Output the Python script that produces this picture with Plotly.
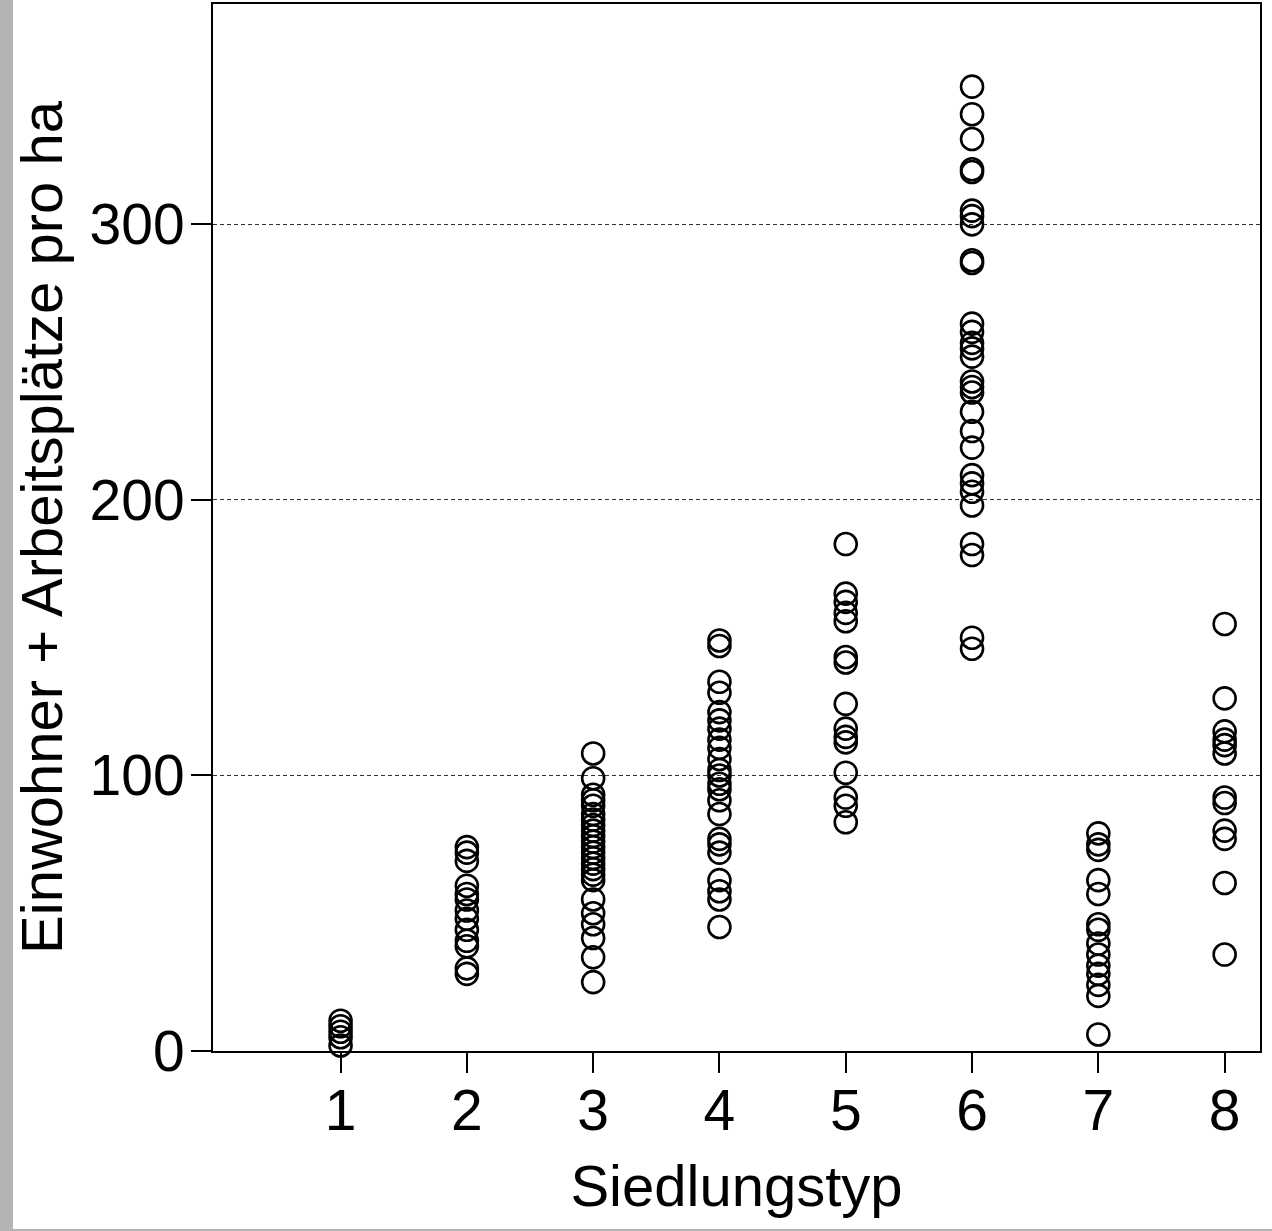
import plotly.graph_objects as go

# Data (Siedlungstyp -> Einwohner + Arbeitsplätze pro ha)
typ1 = [2, 5, 7, 9, 11]
typ2 = [74, 72, 69, 60, 57, 55, 51, 48, 44, 40, 38, 30, 28]
typ3 = [108, 99, 93, 91, 89, 86, 84, 82, 80, 78, 76, 74, 72, 70, 68, 66, 64, 62, 55, 50, 46, 41, 34, 25]
typ4 = [149, 147, 134, 130, 123, 120, 117, 113, 110, 106, 102, 100, 97, 95, 91, 86, 77, 75, 72, 62, 58, 55, 45]
typ5 = [184, 166, 163, 159, 156, 143, 141, 126, 117, 114, 112, 101, 92, 89, 83]
typ6 = [350, 340, 331, 320, 319, 305, 303, 300, 287, 286, 264, 261, 257, 255, 252, 243, 241, 239,
        232, 225, 219, 209, 206, 203, 198, 184, 180, 150, 146]
typ7 = [79, 75, 73, 62, 57, 46, 44, 39, 35, 31, 28, 24, 20, 6]
typ8 = [155, 128, 116, 113, 111, 108, 92, 90, 80, 77, 61, 35]

groups = [typ1, typ2, typ3, typ4, typ5, typ6, typ7, typ8]
x_ticks = [1, 2, 3, 4, 5, 6, 7, 8]
y_ticks = [0, 100, 200, 300]

xs, ys = [], []
for t, vals in zip(x_ticks, groups):
    xs += [t] * len(vals)
    ys += vals

FONT = "Liberation Sans, Arial, sans-serif"
TICK_SIZE = 57
TITLE_SIZE = 58

fig = go.Figure()
fig.add_trace(go.Scatter(
    x=xs, y=ys, mode="markers", cliponaxis=False,
    marker=dict(symbol="circle-open", size=22, color="black", line=dict(width=2.6, color="black")),
    showlegend=False,
))

W, H = 1272, 1231
L, R, T, B = 213, 12, 4, 180
pw, ph = W - L - R, H - T - B

fig.update_layout(
    width=W, height=H,
    margin=dict(l=L, r=R, t=T, b=B, pad=0),
    paper_bgcolor="white", plot_bgcolor="white",
    font=dict(family=FONT, color="black", size=TICK_SIZE),
    xaxis=dict(
        range=[-0.01, 8.28], tickvals=x_ticks, ticktext=[str(v) for v in x_ticks],
        showgrid=False, zeroline=False,
        showline=True, linecolor="black", linewidth=2, mirror=True,
        ticks="outside", ticklen=20, tickwidth=2, tickcolor="black",
        tickfont=dict(size=TICK_SIZE, family=FONT), ticklabelstandoff=-11,
        title=dict(text="Siedlungstyp", font=dict(size=TITLE_SIZE, family=FONT), standoff=24),
        automargin=False,
    ),
    yaxis=dict(
        range=[0, 380], tickvals=y_ticks, ticktext=[str(v) for v in y_ticks],
        showgrid=True, gridcolor="#333333", gridwidth=1, griddash="4px,3px",
        zeroline=False,
        showline=True, linecolor="black", linewidth=2, mirror=True,
        ticks="outside", ticklen=20, tickwidth=2, tickcolor="black",
        tickfont=dict(size=TICK_SIZE, family=FONT), ticklabelstandoff=-5,
        title=dict(text="Einwohner + Arbeitsplätze pro ha", font=dict(size=TITLE_SIZE, family=FONT), standoff=8),
        automargin=False,
    ),
    shapes=[
        dict(type="rect", xref="paper", yref="paper",
             x0=-L / pw, x1=-(L - 13) / pw, y0=-B / ph, y1=1 + T / ph,
             fillcolor="#b4b4b4", line=dict(width=0), layer="above"),
        dict(type="rect", xref="paper", yref="paper",
             x0=-L / pw, x1=1 + R / pw, y0=-B / ph, y1=-(B - 2) / ph,
             fillcolor="#b4b4b4", line=dict(width=0), layer="above"),
    ],
)

fig.write_html("out.html", config={"displayModeBar": False},
               post_script="document.body.style.margin='0';document.body.style.padding='0';")
